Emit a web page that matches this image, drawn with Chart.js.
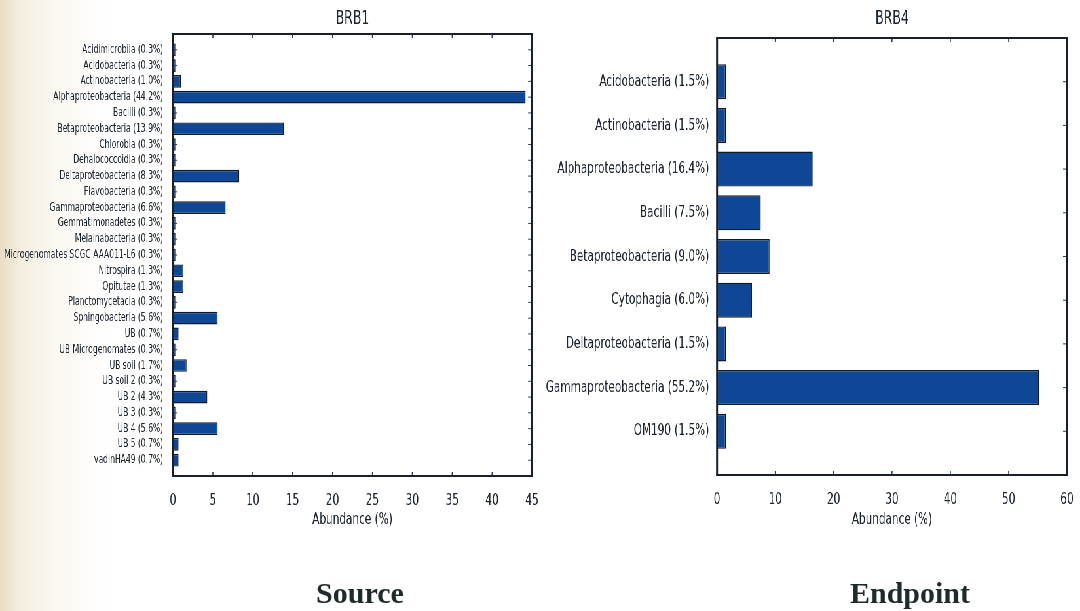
<!DOCTYPE html>
<html><head><meta charset="utf-8">
<script src="https://cdn.jsdelivr.net/npm/chart.js@4"></script>
<style>
html,body{margin:0;padding:0;}
body{width:1080px;height:611px;overflow:hidden;position:relative;background:linear-gradient(to right,#eadcc4 0px,#f4ecde 18px,#fbf8f2 55px,#ffffff 110px);}
#wrap{position:absolute;left:0;top:0;width:1649px;height:611px;transform:scaleX(0.655);transform-origin:0 0;}
#c1{position:absolute;left:0;top:0;}
#c2{position:absolute;left:832px;top:0;}
.cap{position:absolute;top:578px;font-family:"Liberation Serif","Times New Roman",serif;font-weight:bold;font-size:30px;line-height:30px;color:#1f2a2a;transform:translateX(-50%);white-space:nowrap;}
</style></head>
<body>
<div id="wrap">
<canvas id="c1" width="832" height="545"></canvas>
<canvas id="c2" width="817" height="545"></canvas>
</div>
<div class="cap" style="left:360px">Source</div>
<div class="cap" style="left:910px">Endpoint</div>
<script>
const brb1Names = ["Acidimicrobiia","Acidobacteria","Actinobacteria","Alphaproteobacteria","Bacilli","Betaproteobacteria","Chlorobia","Dehalococcoidia","Deltaproteobacteria","Flavobacteria","Gammaproteobacteria","Gemmatimonadetes","Melainabacteria","Microgenomates SCGC AAA011-L6","Nitrospira","Opitutae","Planctomycetacia","Sphingobacteria","UB","UB Microgenomates","UB soil","UB soil 2","UB 2","UB 3","UB 4","UB 5","vadinHA49"];
const brb1Values = [0.3,0.3,1.0,44.2,0.3,13.9,0.3,0.3,8.3,0.3,6.6,0.3,0.3,0.3,1.3,1.3,0.3,5.6,0.7,0.3,1.7,0.3,4.3,0.3,5.6,0.7,0.7];
const brb1XTicks = [0,5,10,15,20,25,30,35,40,45];

const brb4Names = ["Acidobacteria","Actinobacteria","Alphaproteobacteria","Bacilli","Betaproteobacteria","Cytophagia","Deltaproteobacteria","Gammaproteobacteria","OM190"];
const brb4Values = [1.5,1.5,16.4,7.5,9.0,6.0,1.5,55.2,1.5];
const brb4XTicks = [0,10,20,30,40,50,60];

const TEXT = '#1c2530';
const FRAME = '#17202c';

const framePlugin = {
  id: 'frame',
  afterDatasetsDraw(chart) {
    const {ctx, chartArea: a, scales: {x, y}} = chart;
    const line = (x1, y1, x2, y2) => { ctx.beginPath(); ctx.moveTo(x1, y1); ctx.lineTo(x2, y2); ctx.stroke(); };
    ctx.save();
    ctx.strokeStyle = '#2a3d5a';
    ctx.lineWidth = 1.6;
    x.ticks.forEach(t => {
      const px = x.getPixelForValue(t.value);
      line(px, a.bottom, px, a.bottom - 4);
      line(px, a.top, px, a.top + 4);
    });
    ctx.lineWidth = 1;
    y.ticks.forEach(t => {
      const py = y.getPixelForValue(t.value);
      line(a.left, py, a.left + 6, py);
      line(a.right, py, a.right - 6, py);
    });
    ctx.strokeStyle = FRAME;
    ctx.lineWidth = 2;
    line(a.left - 1.5, a.top, a.right + 1.5, a.top);
    line(a.left - 1.5, a.bottom, a.right + 1.5, a.bottom);
    ctx.lineWidth = 3;
    line(a.left, a.top, a.left, a.bottom);
    line(a.right, a.top, a.right, a.bottom);
    ctx.restore();
  }
};

function makeChart(id, title, names, values, xTicks, cfg) {
  const labels = names.map((n, i) => n + ' (' + values[i].toFixed(1) + '%)');
  return new Chart(document.getElementById(id), {
    type: 'bar',
    data: {
      datasets: [{
        data: values.map((v, i) => ({x: v, y: i})),
        backgroundColor: '#0d4796',
        borderColor: '#0e182b',
        borderWidth: 1.4,
        borderSkipped: false,
        barPercentage: 0.8,
        categoryPercentage: 1.0
      }]
    },
    options: {
      indexAxis: 'y',
      responsive: false,
      animation: false,
      layout: {padding: {left: 0, right: cfg.rightPad, top: 0, bottom: 0}},
      plugins: {
        legend: {display: false},
        tooltip: {enabled: false},
        title: {
          display: true, text: title, color: TEXT, fullSize: false,
          font: {family: 'DejaVu Sans', size: 19, weight: 'normal'},
          padding: {top: 8.1, bottom: cfg.titleBottom}
        }
      },
      scales: {
        x: {
          type: 'linear', min: xTicks[0], max: xTicks[xTicks.length - 1],
          afterBuildTicks: s => { s.ticks = xTicks.map(v => ({value: v})); },
          afterFit: s => { s.height = cfg.xHeight; },
          grid: {display: false}, border: {display: false},
          ticks: {color: TEXT, padding: 7.4, font: {family: 'DejaVu Sans', size: 16}, maxRotation: 0, autoSkip: false},
          title: {display: true, text: 'Abundance (%)', color: TEXT, font: {family: 'DejaVu Sans', size: 16}, padding: {top: 0, bottom: 15.4}}
        },
        y: {
          type: 'linear', reverse: true, offset: false, min: -1, max: names.length,
          afterBuildTicks: s => { s.ticks = names.map((n, i) => ({value: i})); },
          afterFit: s => { s.width = cfg.yWidth; },
          grid: {display: false, offset: false}, border: {display: false},
          ticks: {
            color: TEXT, padding: cfg.yPad, autoSkip: false,
            font: {family: 'DejaVu Sans', size: cfg.yFont},
            callback: v => labels[v] !== undefined ? labels[v] : ''
          }
        }
      }
    },
    plugins: [framePlugin]
  });
}

makeChart('c1', 'BRB1', brb1Names, brb1Values, brb1XTicks,
  {rightPad: 19.8, yWidth: 264.1, xHeight: 69, titleBottom: 3.1, yFont: 11.6, yPad: 7});
makeChart('c2', 'BRB4', brb4Names, brb4Values, brb4XTicks,
  {rightPad: 20, yWidth: 262.7, xHeight: 70, titleBottom: 7.1, yFont: 16, yPad: 4});
</script>
</body></html>
